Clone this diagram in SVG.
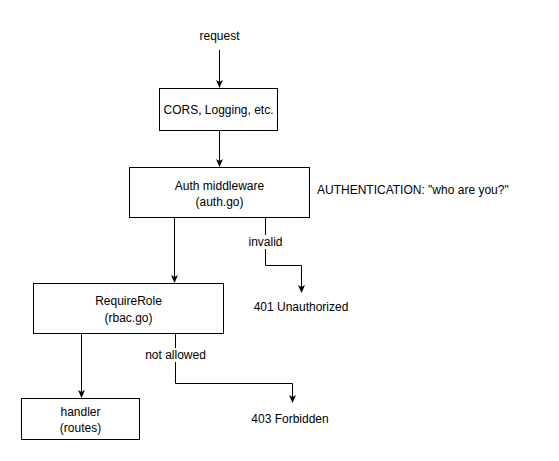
<svg xmlns="http://www.w3.org/2000/svg" width="559" height="461" viewBox="0 0 559 461">
<style>
.box{fill:#fff;stroke:#000;stroke-width:1}
.t{font-family:"Liberation Sans",Arial,Helvetica,sans-serif;font-size:12px;fill:#000;text-anchor:middle;dominant-baseline:central}
.e{fill:none;stroke:#000;stroke-width:1}
</style>
<defs>
<marker id="ah" markerWidth="8" markerHeight="8" viewBox="0 0 8 8" refX="7" refY="4" orient="auto" markerUnits="userSpaceOnUse">
<path d="M0,0.5 L8,4 L0,7.5 L2,4 Z" fill="#000"/>
</marker>
</defs>
<rect width="559" height="461" fill="#fff"/>
<g id="connectors">
<path class="e" d="M219.5,50 V87" marker-end="url(#ah)"/>
<path class="e" d="M219.5,130 V166" marker-end="url(#ah)"/>
<path class="e" d="M174.5,218 V282" marker-end="url(#ah)"/>
<path class="e" d="M265.5,218 V265.5 H301.5 V292" marker-end="url(#ah)"/>
<path class="e" d="M81.5,333 V397" marker-end="url(#ah)"/>
<path class="e" d="M175.5,333 V383.5 H292.5 V402" marker-end="url(#ah)"/>
<rect x="244" y="235" width="43" height="14" fill="#fff"/>
<text class="t" x="265.5" y="242">invalid</text>
<rect x="138" y="348" width="75" height="14" fill="#fff"/>
<text class="t" x="175.5" y="355">not allowed</text>
</g>
<g id="request"><text class="t" x="219.5" y="36">request</text></g>
<g id="cors">
<rect class="box" x="159.5" y="88.5" width="118" height="42"/>
<text class="t" x="218.5" y="109.5">CORS, Logging, etc.</text>
</g>
<g id="auth">
<rect class="box" x="129.5" y="167.5" width="180" height="50"/>
<text class="t" x="219.5" y="186">Auth middleware</text>
<text class="t" x="219.5" y="202">(auth.go)</text>
</g>
<g id="authnote"><text class="t" x="317" y="190" style="text-anchor:start">AUTHENTICATION: "who are you?"</text></g>
<g id="requirerole">
<rect class="box" x="33.5" y="283.5" width="190" height="50"/>
<text class="t" x="128.5" y="301">RequireRole</text>
<text class="t" x="128.5" y="318">(rbac.go)</text>
</g>
<g id="unauth"><text class="t" x="301" y="307">401 Unauthorized</text></g>
<g id="handler">
<rect class="box" x="21.5" y="398.5" width="118" height="41"/>
<text class="t" x="80.5" y="412">handler</text>
<text class="t" x="80.5" y="428">(routes)</text>
</g>
<g id="forbidden"><text class="t" x="290" y="419">403 Forbidden</text></g>
</svg>
